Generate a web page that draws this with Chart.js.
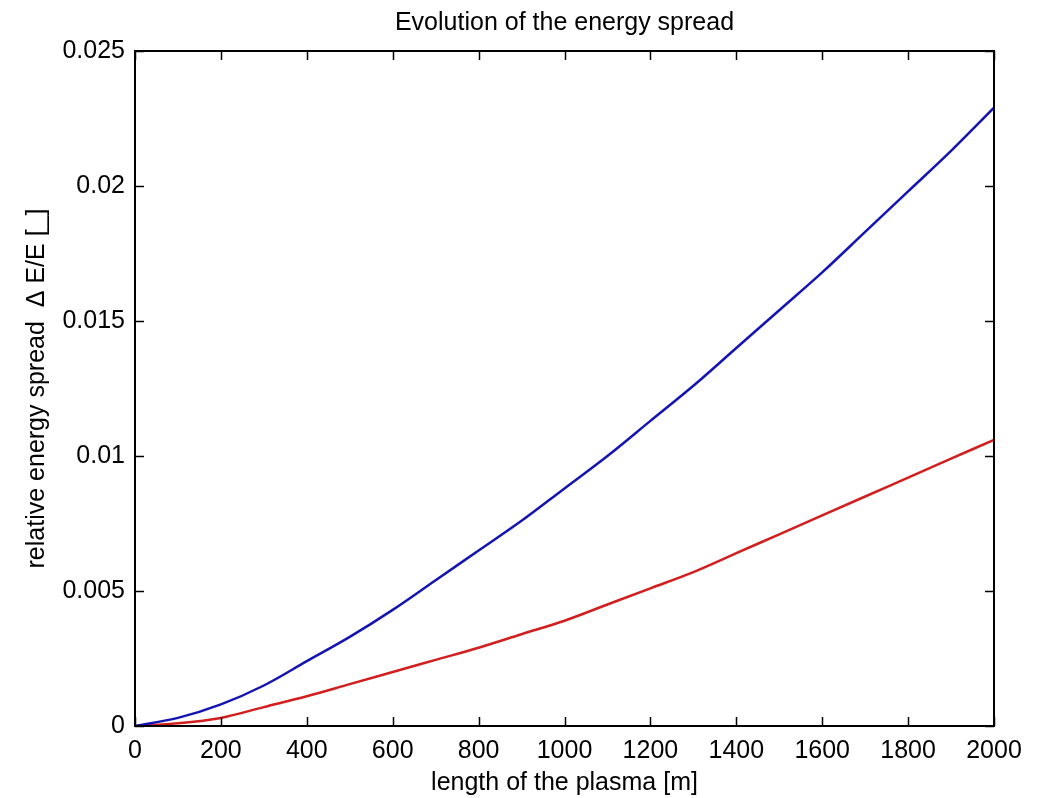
<!DOCTYPE html>
<html>
<head>
<meta charset="utf-8">
<script src="https://cdn.jsdelivr.net/npm/chart.js@4.4.0/dist/chart.umd.min.js"></script>
<style>
  html, body { margin: 0; padding: 0; background: #fff; }
  #wrap { width: 1038px; height: 798px; }
</style>
</head>
<body>
<div id="wrap"><canvas id="chartSpread" width="1038" height="798"></canvas></div>
<script>
const FONT = "'Liberation Sans', Arial, sans-serif";

// plasma length [m]
const plasmaLength = [0, 100, 200, 300, 400, 500, 600, 700, 800, 900, 1000,
  1100, 1200, 1300, 1400, 1500, 1600, 1700, 1800, 1900, 2000];

// relative energy spread, blue curve
const spreadBlue = [0, 0.0003, 0.0008, 0.0015, 0.0024, 0.0033, 0.0043, 0.0054, 0.0065, 0.0076, 0.0088,
  0.0100, 0.0113, 0.0126, 0.0140, 0.0154, 0.0168, 0.0183, 0.0198, 0.0213, 0.0229];

// relative energy spread, red curve
const spreadRed = [0, 0.0001, 0.0003, 0.0007, 0.0011, 0.00155, 0.0020, 0.00245, 0.0029, 0.0034, 0.0039,
  0.0045, 0.0051, 0.0057, 0.0064, 0.0071, 0.0078, 0.0085, 0.0092, 0.0099, 0.0106];

const xTicks = [0, 200, 400, 600, 800, 1000, 1200, 1400, 1600, 1800, 2000];
const yTicks = [0, 0.005, 0.01, 0.015, 0.02, 0.025];
const chartTitle = "Evolution of the energy spread";

const toPoints = ys => plasmaLength.map((x, i) => ({ x, y: ys[i] }));

// matlab style box with inward ticks on all four sides, title over the axes
const boxTicks = {
  id: "boxTicks",
  afterDraw(chart) {
    const { ctx, chartArea: a, scales } = chart;
    const len = 9;
    ctx.save();
    ctx.strokeStyle = "#000";
    ctx.lineWidth = 1.5;
    ctx.beginPath();
    scales.x.ticks.forEach(t => {
      const px = Math.round(scales.x.getPixelForValue(t.value)) + 0.5;
      ctx.moveTo(px, a.bottom); ctx.lineTo(px, a.bottom - len);
      ctx.moveTo(px, a.top); ctx.lineTo(px, a.top + len);
    });
    scales.y.ticks.forEach(t => {
      const py = Math.round(scales.y.getPixelForValue(t.value)) + 0.5;
      ctx.moveTo(a.left, py); ctx.lineTo(a.left + len, py);
      ctx.moveTo(a.right, py); ctx.lineTo(a.right - len, py);
    });
    ctx.stroke();
    ctx.lineWidth = 2;
    ctx.strokeRect(a.left, a.top, a.right - a.left, a.bottom - a.top);

    ctx.fillStyle = "#000";
    ctx.font = "25px " + FONT;
    ctx.textAlign = "center";
    ctx.textBaseline = "middle";
    ctx.fillText(chartTitle, (a.left + a.right) / 2, 23);
    ctx.restore();
  }
};

new Chart(document.getElementById("chartSpread"), {
  type: "line",
  data: {
    datasets: [
      { label: "blue", data: toPoints(spreadBlue), borderColor: "#1414b4", borderWidth: 2.5, pointRadius: 0, cubicInterpolationMode: "monotone", fill: false },
      { label: "red", data: toPoints(spreadRed), borderColor: "#d21e1e", borderWidth: 2.5, pointRadius: 0, cubicInterpolationMode: "monotone", fill: false },
    ]
  },
  options: {
    responsive: false,
    animation: false,
    layout: { padding: { left: 22, right: 44, top: 51, bottom: 0 } },
    plugins: {
      legend: { display: false },
      tooltip: { enabled: false },
      title: { display: false }
    },
    scales: {
      x: {
        type: "linear", min: 0, max: 2000,
        afterBuildTicks: s => { s.ticks = xTicks.map(v => ({ value: v })); },
        afterFit: s => { s.height = 72; },
        grid: { display: false },
        border: { display: false },
        ticks: { color: "#000", padding: 2, maxRotation: 0, callback: v => String(v), font: { family: FONT, size: 25 } },
        title: { display: true, text: "length of the plasma [m]", color: "#000", padding: 0, font: { family: FONT, size: 25 } }
      },
      y: {
        type: "linear", min: 0, max: 0.025,
        afterBuildTicks: s => { s.ticks = yTicks.map(v => ({ value: v })); },
        afterFit: s => { s.width = 113; },
        grid: { display: false },
        border: { display: false },
        ticks: { color: "#000", padding: 2, callback: v => String(+v.toFixed(3)), font: { family: FONT, size: 25 } },
        title: { display: true, text: "relative energy spread  \u0394 E/E [_]", color: "#000", padding: 0, font: { family: FONT, size: 25 } }
      }
    }
  },
  plugins: [boxTicks]
});
</script>
</body>
</html>
